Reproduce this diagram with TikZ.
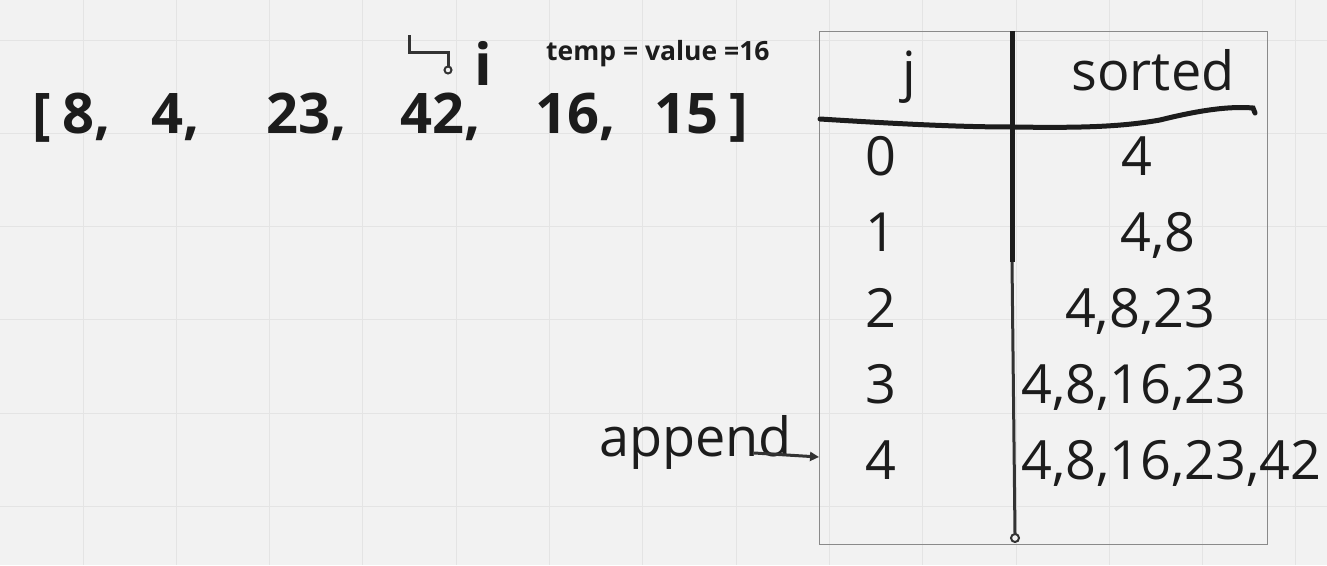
\documentclass[tikz,border=0pt]{standalone}
\usepackage{fontspec}
\setmainfont{Open Sans}
\usetikzlibrary{arrows.meta}
\definecolor{bg}{HTML}{F2F2F2}
\definecolor{gridc}{HTML}{E4E4E4}
\definecolor{ink}{HTML}{1C1C1C}
\definecolor{ink2}{HTML}{333333}
\definecolor{boxc}{HTML}{8A8A8A}
\tikzset{
  arr/.style={inner sep=0pt, anchor=base west, text=ink, font=\fontsize{56}{60}\selectfont\bfseries},
  cell/.style={inner sep=0pt, anchor=base, text=ink, font=\fontsize{54}{58}\selectfont},
  small/.style={inner sep=0pt, anchor=base west, text=ink, font=\fontsize{26.5}{30}\selectfont\bfseries},
}
\begin{document}
\begin{tikzpicture}[x=1pt,y=-1pt]
\fill[bg] (0,0) rectangle (1327,565);
\useasboundingbox (0,0) rectangle (1327,565);
% grid
\foreach \k in {0,...,13} { \draw[gridc, line width=1pt] ({83+93.3*\k},0) -- ({83+93.3*\k},565); }
\foreach \k in {0,...,5} { \draw[gridc, line width=1pt] (0,{40+93.3*\k}) -- (1327,{40+93.3*\k}); }
% array
\node[arr] (lb) at (32,133) {[};
\node[arr] (a1) at (62,133) {8,};
\node[arr] (a2) at (151,133) {4,};
\node[arr] (a3) at (266,133) {23,};
\node[arr] (a4) at (400,133) {42,};
\node[arr] (a5) at (535,133) {16,};
\node[arr] (a6) at (654,133) {15};
\node[arr] (rb) at (729,133) {]};
% pointer symbol and i
\draw[ink2, line width=3pt] (409.5,35) -- (409.5,52) -- (448,52) -- (448,66);
\draw[ink2, line width=2pt, fill=bg] (448,70) circle (3.5);
\node[arr, font=\fontsize{58}{60}\selectfont\bfseries] (iv) at (474,85) {i};
\node[small] (tmp) at (546,60) {temp = value =16};
% table
\draw[boxc, line width=1pt] (819,31) rectangle (1267,544);
\draw[ink, line width=5pt] (1012,31) -- (1012,262);
\draw[ink2, line width=3pt] (1012,262) -- (1015,534);
\draw[ink2, line width=2pt, fill=bg] (1015,538) circle (4);
\draw[ink, line width=5pt, line cap=round] (820,119) .. controls (900,124) and (960,127) .. (1012,127)
  .. controls (1080,128) and (1120,127) .. (1160,120) .. controls (1200,110) and (1230,106) .. (1253,108) -- (1255,113);
\node[cell] (hj) at (909,90) {j};
\node[cell] (hs) at (1153,90) {sorted};
\node[cell] (j0) at (881,175) {0};
\node[cell] (j1) at (881,251) {1};
\node[cell] (j2) at (881,327) {2};
\node[cell] (j3) at (881,403) {3};
\node[cell] (j4) at (881,479) {4};
\node[cell] (s0) at (1137,175) {4};
\node[cell] (s1) at (1158,251) {4,8};
\node[cell] (s2) at (1140,327) {4,8,23};
\node[cell, anchor=base west] (s3) at (1021,403) {4,8,16,23};
\node[cell, anchor=base west] (s4) at (1021,479) {4,8,16,23,42};
% append
\node[cell, anchor=base west] (app) at (599,456) {append};
\coordinate (tip) at (819,457);
\draw[ink2, line width=3pt, -{Triangle[length=9pt,width=9pt]}] (app.base east) ++(-38,-3) -- (tip);
\end{tikzpicture}
\end{document}
